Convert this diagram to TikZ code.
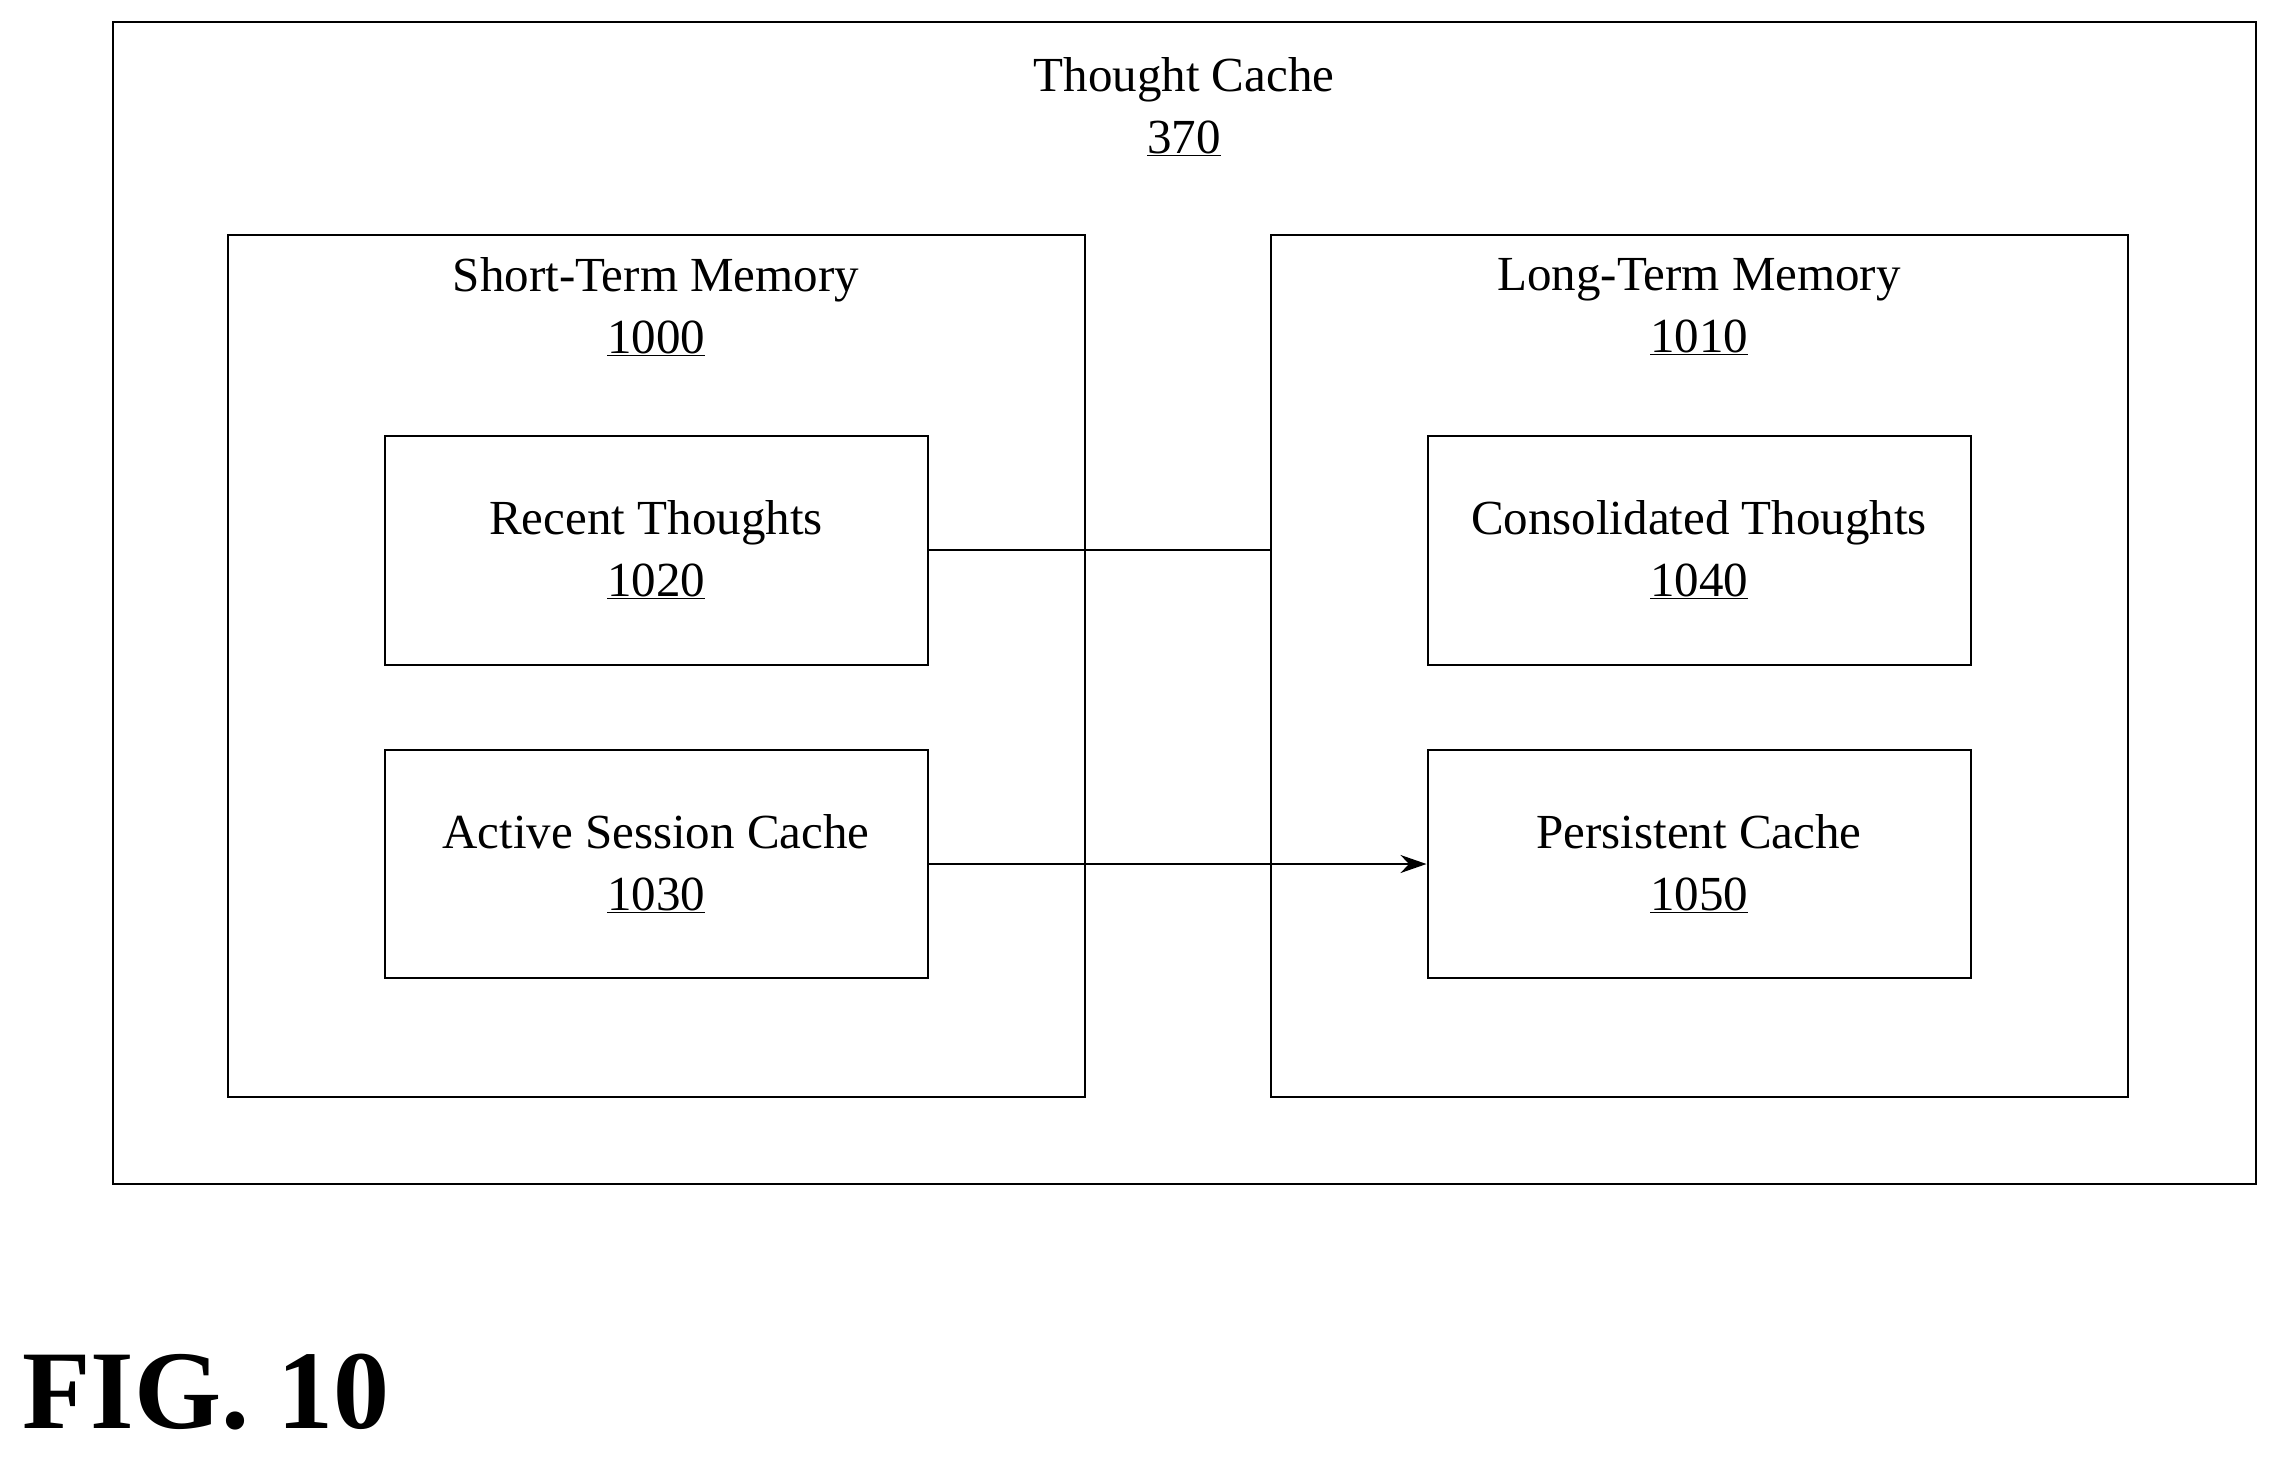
\documentclass[tikz,border=0pt]{standalone}
\usepackage{fontspec}
\setmainfont{Liberation Serif}
\usetikzlibrary{arrows.meta}
\begin{document}
\begin{tikzpicture}[x=1pt,y=-1pt,
  box/.style={draw,line width=2pt},
  lbl/.style={font=\fontsize{49}{62}\selectfont,align=center},
  conn/.style={line width=2pt}]
\useasboundingbox (0,0) rectangle (2275,1460);
\draw[box] (113,22) rectangle (2256,1184);
\node[lbl] (tc) at (1184,107) {Thought Cache\\\underline{370}};
\draw[box] (228,235) rectangle (1085,1097);
\node[lbl] (stml) at (656,307) {Short-Term Memory\\\underline{1000}};
\draw[box] (1271,235) rectangle (2128,1097);
\coordinate (ltmw) at (1271,551);
\node[lbl] (ltml) at (1699,307) {Long-Term Memory\\\underline{1010}};
\node[box,lbl,minimum width=543,minimum height=229] (rt) at (656,550) {Recent Thoughts\\\underline{1020}};
\node[box,lbl,minimum width=543,minimum height=228] (as) at (656,864) {Active Session Cache\\\underline{1030}};
\node[box,lbl,minimum width=543,minimum height=229] (ct) at (1699,550) {Consolidated Thoughts\\\underline{1040}};
\node[box,lbl,minimum width=543,minimum height=228] (pc) at (1699,864) {Persistent Cache\\\underline{1050}};
\draw[conn] (rt.east) -- (rt.east -| ltmw);
\draw[conn,-{Stealth[length=26pt,width=18pt]}] (as.east) -- (pc.west);
\node[font=\fontsize{112}{118}\selectfont\bfseries,anchor=base west,inner sep=0pt] (fig) at (22,1428) {FIG. 10};
\end{tikzpicture}
\end{document}
